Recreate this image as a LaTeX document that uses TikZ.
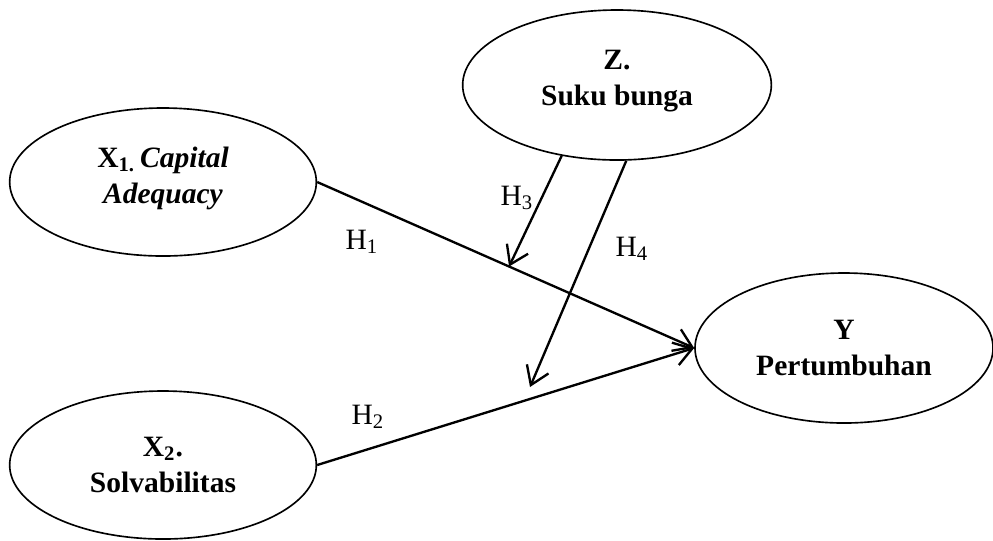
\documentclass[tikz,border=0pt]{standalone}
\usepackage{fontspec}
\setmainfont{Liberation Serif}
\usetikzlibrary{arrows.meta,shapes.geometric,calc}

\begin{document}
\begin{tikzpicture}[x=0.015cm,y=-0.015cm,
		var/.style={ellipse,draw,line width=0.7pt,minimum width=4.6cm,minimum height=2.22cm,inner sep=0pt,align=center,font=\fontsize{12.6}{15.5}\selectfont\bfseries},
		hyp/.style={line width=1pt,-{Straight Barb[length=7.5pt,width=10pt]}},
		lab/.style={font=\fontsize{12.6}{15}\selectfont}]
		\useasboundingbox (0,0) rectangle (993,540);
		
		% Define variables
		\node[var] (x1) at (163,182) {X\textsubscript{1.}\,\textit{Capital}\\\textit{Adequacy}\\[-9.5pt]\mbox{}};
		\node[var] (x2) at (163,465) {X\textsubscript{2}.\\Solvabilitas};
		\node[var,minimum width=4.63cm,minimum height=2.25cm] (z) at (617,85) {Z.\\Suku bunga\\[-9.5pt]\mbox{}};
		\node[var,minimum width=4.47cm,minimum height=2.25cm] (y) at (844,348) {Y\\Pertumbuhan};
		\coordinate (h4end) at (530,387);
		
		% Draw arrows
		\draw[hyp] (x1.east) -- (y.west);
		\draw[hyp] (x2.east) -- (y.west);
		\draw[hyp] (z.232) -- ($(x1.east)!0.509!(y.west)$);
		\draw[hyp] (z.277) -- (h4end);
		
		% Label hypotheses
		\node[lab] (h1) at (362,242) {H\textsubscript{1}};
		\node[lab] (h2) at (368,417) {H\textsubscript{2}};
		\node[lab] (h3) at (517,198) {H\textsubscript{3}};
		\node[lab] (h4) at (632,249) {H\textsubscript{4}};
	\end{tikzpicture}
\end{document}
